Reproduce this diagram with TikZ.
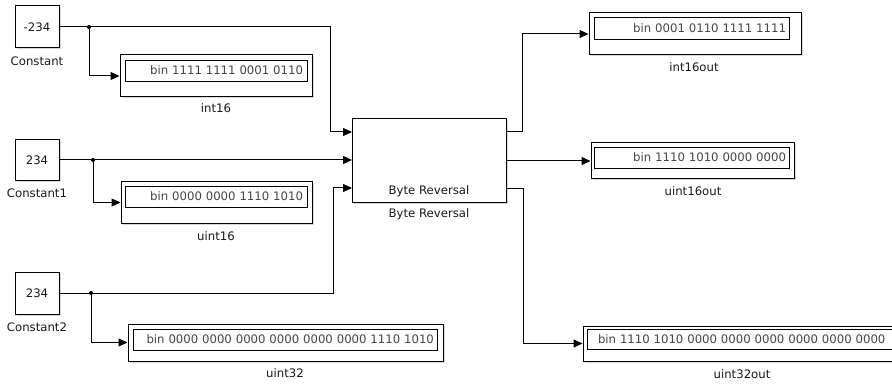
\documentclass[tikz,border=0pt]{standalone}
\usepackage{fontspec}
\setmainfont{DejaVu Sans}
\usetikzlibrary{arrows.meta,shadows}
\definecolor{lbltxt}{RGB}{25,25,25}
\definecolor{disptxt}{RGB}{70,70,70}

\begin{document}
\begin{tikzpicture}[x=1pt, y=-1pt,
  every node/.style={font=\fontsize{11.7}{13}\selectfont, text=lbltxt, inner sep=0pt},
  blk/.style={draw, line width=1pt, fill=white, drop shadow={shadow xshift=1.5pt, shadow yshift=-1.5pt, opacity=0.3}},
  disp/.style={draw, line width=0.8pt, inner xsep=4pt, align=right, text=disptxt},
  dot/.style={circle, fill=black, minimum size=4pt},
  sig/.style={line width=1pt, -{Triangle[length=9pt,width=8pt]}}]
\useasboundingbox (0,0) rectangle (892,385);
% sources
\node[blk, minimum width=44pt, minimum height=42pt] (C0) at (37,27) {-234};
\node[blk, minimum width=44pt, minimum height=41pt] (C1) at (37,160) {234};
\node[blk, minimum width=44pt, minimum height=42pt] (C2) at (37,293) {234};
\node (L0) at (37,61) {Constant};
\node (L1) at (37,193) {Constant1};
\node (L2) at (37,327) {Constant2};
% branch points
\node[dot] (D0) at (89,27) {};
\node[dot] (D1) at (93,160) {};
\node[dot] (D2) at (91,293) {};
% input displays
\node[blk, minimum width=192pt, minimum height=42pt] (int16) at (216,76) {};
\node[disp, minimum width=182pt, minimum height=21pt, text width=174pt] (int16v) at (216,70.5) {bin 1111 1111 0001 0110};
\node (int16l) at (216,108) {int16};
\node[blk, minimum width=191pt, minimum height=41pt] (uint16) at (216.5,202.5) {};
\node[disp, minimum width=182pt, minimum height=21pt, text width=174pt] (uint16v) at (216,196.5) {bin 0000 0000 1110 1010};
\node (uint16l) at (216,236) {uint16};
\node[blk, minimum width=315pt, minimum height=37pt] (uint32) at (285.5,342.5) {};
\node[disp, minimum width=304pt, minimum height=21pt, text width=298pt, inner xsep=3pt] (uint32v) at (285,339.5) {bin 0000 0000 0000 0000 0000 0000 1110 1010};
\node (uint32l) at (285,373) {uint32};
% byte reversal
\node[blk, minimum width=154pt, minimum height=83pt] (BR) at (429,160.5) {};
\node (BRin) at (429,191) {Byte Reversal};
\node (BRl) at (429,214) {Byte Reversal};
\coordinate (in1) at (352,132);
\coordinate (in2) at (352,160);
\coordinate (in3) at (352,188);
\coordinate (out1) at (506,132);
\coordinate (out2) at (506,161);
\coordinate (out3) at (506,189);
% output displays
\node[blk, minimum width=212pt, minimum height=42pt] (int16out) at (695,34) {};
\node[disp, minimum width=195pt, minimum height=22pt, text width=189pt, inner xsep=3pt] (int16outv) at (691.5,28) {bin 0001 0110 1111 1111};
\node (int16outl) at (694,67) {int16out};
\node[blk, minimum width=203pt, minimum height=36pt] (uint16out) at (692.5,161) {};
\node[disp, minimum width=195pt, minimum height=21pt, text width=189pt, inner xsep=3pt] (uint16outv) at (691.5,157.5) {bin 1110 1010 0000 0000};
\node (uint16outl) at (693,191) {uint16out};
\node[blk, minimum width=330pt, minimum height=35pt] (uint32out) at (748,343.5) {};
\node[disp, minimum width=321pt, minimum height=20pt, text width=299pt, inner xsep=11pt, align=left] (uint32outv) at (747.5,339) {bin 1110 1010 0000 0000 0000 0000 0000 0000};
\node (uint32outl) at (742,374) {uint32out};
% signals
\draw[line width=1pt] (C0.east) -- (D0.center);
\draw[line width=1pt] (C1.east) -- (D1.center);
\draw[line width=1pt] (C2.east) -- (D2.center);
\draw[sig] (D0.center) |- (int16.west);
\draw[sig] (D1.center) |- (uint16.west);
\draw[sig] (D2.center) |- (uint32.west);
\draw[sig] (D0.center) -| ([xshift=-22pt]in1) -- (in1);
\draw[sig] (D1.center) -- (in2);
\draw[sig] (D2.center) -| ([xshift=-19pt]in3) -- (in3);
\draw[sig] (out1) -| ([xshift=-66pt]int16out.west) -- (int16out.west);
\draw[sig] (out2) -- (uint16out.west);
\draw[sig] (out3) -| ([xshift=-59pt]uint32out.west) -- (uint32out.west);
\end{tikzpicture}
\end{document}
